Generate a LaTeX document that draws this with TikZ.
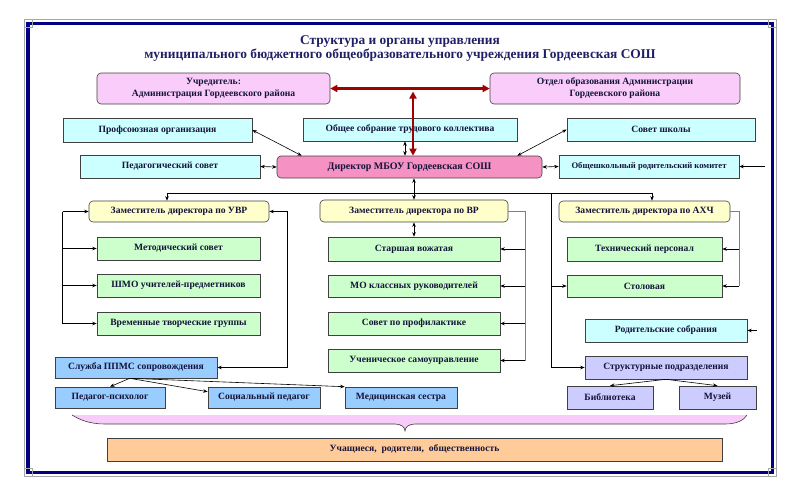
\documentclass[tikz,border=0pt]{standalone}
\usepackage{fontspec}
\setmainfont{Liberation Serif}
\usetikzlibrary{arrows.meta,calc}
\definecolor{navy}{HTML}{000080}
\definecolor{titlec}{HTML}{1F1F66}
\definecolor{txt}{HTML}{14143A}
\definecolor{bord}{HTML}{404040}
\definecolor{pinkbox}{HTML}{FACCFA}
\definecolor{cyanbox}{HTML}{CCFFFF}
\definecolor{dirpink}{HTML}{F592C3}
\definecolor{yelbox}{HTML}{FFFFCC}
\definecolor{grnbox}{HTML}{CCFFCC}
\definecolor{bluebox}{HTML}{99CCFF}
\definecolor{lavbox}{HTML}{CCCCFF}
\definecolor{orgbox}{HTML}{FFCC99}
\definecolor{bracec}{HTML}{F8CCF8}
\definecolor{darkred}{HTML}{A00000}
\newcommand\boxnode[7]{\node[#1,minimum width={(#5-#3)*1pt},minimum height={(#6-#4)*1pt}] (#2) at ({(#3+#5)/2},{(#4+#6)/2}) {#7};}
\begin{document}
\begin{tikzpicture}[x=1pt,y=-1pt,
  bx/.style={draw=bord, line width=0.6pt, inner sep=1pt, align=center, text=txt,
    font=\bfseries\fontsize{9.6}{12}\selectfont},
  rbx/.style={bx, rounded corners=4pt},
  pinkb/.style={rbx, fill=pinkbox},
  cyanb/.style={bx, fill=cyanbox},
  dirb/.style={rbx, fill=dirpink},
  yelb/.style={rbx, fill=yelbox},
  grnb/.style={bx, fill=grnbox},
  blueb/.style={bx, fill=bluebox},
  lavb/.style={bx, fill=lavbox},
  orgb/.style={bx, fill=orgbox},
  conn/.style={draw=black, line width=0.6pt, >={Stealth[length=4.5pt,width=3.5pt]}},
  grayconn/.style={conn, draw=gray},
  redconn/.style={draw=darkred, line width=2.2pt, >={Triangle[length=7pt,width=7pt]}},
]
\useasboundingbox (0,0) rectangle (800,498);
% frame
\draw[gray!70, line width=0.6pt] (24,19.5) rectangle (776.5,476.5);
\draw[navy, line width=3.4pt] (28,23.5) rectangle (772.5,472.5);
\foreach \cx/\cy in {28/23.5, 772.5/23.5, 28/472.5, 772.5/472.5}
  \draw[gray!70, line width=0.5pt] (\cx-4,\cy-4) rectangle (\cx+4,\cy+4);
% title
\node[font=\bfseries\fontsize{13.4}{14}\selectfont, text=titlec, align=center] (title) at (400,49)
  {Структура и органы управления\\муниципального бюджетного общеобразовательного учреждения Гордеевская СОШ};
% top level
\boxnode{pinkb}{uchr}{97}{73}{330}{104}{Учредитель:\\Администрация Гордеевского района}
\boxnode{pinkb}{otdel}{490}{73}{740}{104}{Отдел образования Администрации\\Гордеевского района}
\boxnode{cyanb}{prof}{63}{118}{252}{142}{Профсоюзная организация}
\boxnode{cyanb}{obsh}{303}{118}{517}{141}{Общее собрание трудового коллектива}
\boxnode{cyanb}{sovet}{567}{118}{755}{141}{Совет школы}
\boxnode{cyanb}{ped}{80}{155}{260}{178}{Педагогический совет}
\boxnode{dirb,font=\bfseries\fontsize{10}{12}\selectfont}{dir}{277}{156}{542}{178}{Директор МБОУ Гордеевская СОШ}
\boxnode{cyanb,font=\bfseries\fontsize{8.6}{10}\selectfont}{kom}{559}{155}{739}{178}{Общешкольный родительский комитет}
% deputies
\boxnode{yelb}{uvr}{89}{201}{269}{222}{Заместитель директора по УВР}
\boxnode{yelb}{vr}{320}{200}{508}{222}{Заместитель директора по ВР}
\boxnode{yelb}{axch}{559}{201}{730}{222}{Заместитель директора по АХЧ}
% UVR
\boxnode{grnb}{met}{97}{237}{260}{260}{Методический совет}
\boxnode{grnb}{shmo}{97}{274}{260}{297}{ШМО учителей-предметников}
\boxnode{grnb}{vrem}{97}{312}{260}{335}{Временные творческие группы}
% VR
\boxnode{grnb}{star}{328}{237}{500}{261}{Старшая вожатая}
\boxnode{grnb}{mokl}{328}{275}{500}{297}{МО классных руководителей}
\boxnode{grnb}{sprof}{328}{312}{500}{335}{Совет по профилактике}
\boxnode{grnb}{uchsam}{328}{349}{500}{372}{Ученическое самоуправление}
% AXCH
\boxnode{grnb}{tech}{567}{237}{722}{261}{Технический персонал}
\boxnode{grnb}{stol}{567}{275}{722}{297}{Столовая}
\boxnode{cyanb}{rodsob}{585}{319}{747}{342}{Родительские собрания}
\boxnode{lavb}{struct}{585}{356}{747}{379}{Структурные подразделения}
\boxnode{lavb}{bib}{567}{386}{653}{409}{Библиотека}
\boxnode{lavb}{muz}{679}{386}{756}{409}{Музей}
% PPMS
\boxnode{blueb}{ppms}{55}{357}{217}{378}{Служба ППМС сопровождения}
\boxnode{blueb}{ppsy}{55}{387}{165}{408}{Педагог-психолог}
\boxnode{blueb}{soc}{208}{387}{320}{408}{Социальный педагог}
\boxnode{blueb}{med}{345}{387}{457}{408}{Медицинская сестра}
% brace
\fill[bracec] (72,415) .. controls (80,420) and (90,424) .. (105,424) -- (395,424)
  .. controls (401,424) and (405,427) .. (405,431) .. controls (405,427) and (409,424) .. (415,424)
  -- (725,424) .. controls (737,424) and (744,420) .. (747,415) -- cycle;
\draw[bord, line width=0.6pt] (72,415) .. controls (80,420) and (90,424) .. (105,424) -- (395,424)
  .. controls (401,424) and (405,427) .. (405,431) .. controls (405,427) and (409,424) .. (415,424)
  -- (725,424) .. controls (737,424) and (744,420) .. (747,415);
\boxnode{orgb}{bottom}{107}{438}{722}{461}{Учащиеся,\ \ родители,\ \ общественность}
% red connectors
\draw[redconn,<->] (uchr.east) -- (otdel.west);
\coordinate (rtop) at (413,91.5);
\draw[redconn,<->] (rtop) -- (rtop |- dir.north);
% black connectors
\draw[conn,<->] (prof.east) -- ($(dir.north west)+(25,0)$);
\draw[conn,<->] (ped.east) -- (dir.west);
\draw[conn,<->] ([xshift=-5pt]obsh.south) -- ([xshift=-5pt]obsh.south |- dir.north);
\draw[conn,<->] (sovet.west) -- ($(dir.north east)+(-25,0)$);
\draw[conn,<->] (dir.east) -- (kom.west);
\coordinate (kin) at (765,166.5);
\draw[conn,->] (kin) -- (kom.east);
\draw[conn,<->] (dir.south -| vr.north) -- (vr.north);
% bus
\coordinate (busL) at (167,193);
\coordinate (busR) at (652,193);
\coordinate (busM) at (551,193);
\draw[conn] (busL) -- (busR);
\draw[conn,->] (busL) -- (busL |- uvr.north);
\draw[conn,->] (busR) -- (busR |- axch.north);
\draw[conn,->] (busM) |- (struct.west);
\draw[conn,->] (busM |- stol.west) -- (stol.west);
% UVR left bus
\coordinate (uL) at ($(uvr.west)+(-26,0)$);
\draw[conn,->] (uL) -- (uvr.west);
\draw[conn,->] (uL) |- (vrem.west);
\draw[conn,->] (uL |- met.west) -- (met.west);
\draw[conn,->] (uL |- shmo.west) -- (shmo.west);
% UVR right <-> PPMS
\coordinate (uR) at ($(uvr.east)+(18,0)$);
\draw[conn,<->] (uvr.east) -- (uR) |- (ppms.east);
% VR
\draw[conn,<->] (vr.south) -- (star.north);
\coordinate (vR) at ($(vr.east)+(17,0)$);
\draw[grayconn] (vr.east) -- (vR) -- (vR |- uchsam.east);
\foreach \n in {star,mokl,sprof,uchsam}
  \draw[conn,->] (vR |- \n.east) -- (\n.east);
% AXCH
\coordinate (aR) at ($(axch.east)+(9,0)$);
\draw[grayconn] (axch.east) -- (aR) -- (aR |- stol.east);
\draw[conn,->] (aR |- tech.east) -- (tech.east);
\draw[conn,->] (aR |- stol.east) -- (stol.east);
\coordinate (rin) at (757,330.5);
\draw[conn,->] (rin) -- (rodsob.east);
\draw[conn,->] (struct.south) -- (bib.north);
\draw[conn,->] (struct.south) -- (muz.north);
% PPMS
\coordinate (pp) at ($(ppms.south west)+(75,0)$);
\draw[conn,->] (pp) -- (ppsy.north);
\draw[conn,->] (pp) -- ($(soc.north west)+(0,5)$);
\draw[conn,->] (pp) -- (med.north west);
\end{tikzpicture}
\end{document}
